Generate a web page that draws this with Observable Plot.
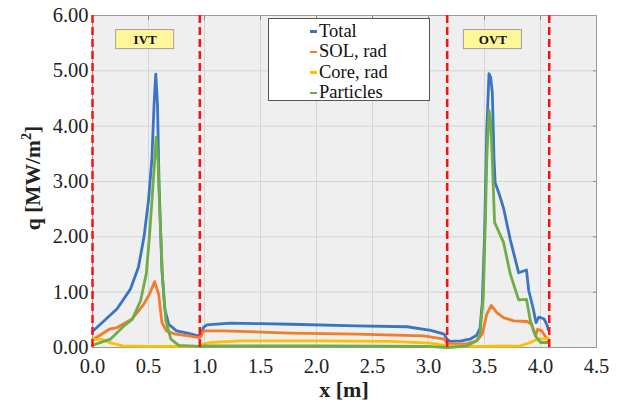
<!DOCTYPE html>
<html><head><meta charset="utf-8">
<script src="https://cdn.jsdelivr.net/npm/d3@7"></script>
<script src="https://cdn.jsdelivr.net/npm/@observablehq/plot@0.6"></script>
<style>
body{margin:0;background:#fff;font-family:'Liberation Serif',serif;}
#wrap{position:relative;width:624px;height:406px;}
#legend{position:absolute;left:268px;top:18px;width:162px;height:83px;border:1px solid #555;background:#fff;font-family:'Liberation Serif',serif;font-size:18.5px;box-sizing:border-box;padding:2px 0 0 41px;color:#111;}
.item{height:20.5px;display:flex;align-items:center;}
.sw{width:7px;height:2.5px;margin-right:2px;}
svg text{font-family:'Liberation Serif',serif;}
</style></head><body><div id="wrap"></div>
<script>
// ---- data ----
const seriesNames = ["Total", "SOL, rad", "Core, rad", "Particles"];
const seriesColors = ["#3A75C4", "#F07C2C", "#FFC000", "#6FAD46"];

const totalX = [0, 0.22, 0.34, 0.41, 0.46, 0.50, 0.53, 0.55, 0.565, 0.58, 0.595, 0.62, 0.645, 0.68, 0.75, 0.85, 0.945, 0.965, 0.99, 1.02, 1.23, 1.5, 1.77, 2.36, 2.81, 3.02, 3.14, 3.165, 3.19, 3.29, 3.37, 3.43, 3.46, 3.48, 3.50, 3.52, 3.54, 3.555, 3.57, 3.585, 3.595, 3.63, 3.67, 3.73, 3.805, 3.875, 3.895, 3.935, 3.96, 3.985, 4.03, 4.06, 4.07];
const totalQ = [0.29, 0.70, 1.06, 1.45, 2.0, 2.66, 3.4, 4.4, 4.94, 4.4, 2.9, 1.4, 0.7, 0.42, 0.30, 0.26, 0.21, 0.22, 0.36, 0.41, 0.44, 0.43, 0.42, 0.39, 0.375, 0.31, 0.24, 0.15, 0.11, 0.12, 0.15, 0.22, 0.35, 0.8, 2.0, 3.9, 4.95, 4.88, 4.6, 3.4, 2.98, 2.78, 2.52, 1.95, 1.35, 1.40, 1.03, 0.70, 0.45, 0.55, 0.52, 0.40, 0.32];

const solX = [0, 0.08, 0.15, 0.22, 0.35, 0.45, 0.51, 0.555, 0.59, 0.62, 0.66, 0.74, 0.86, 0.95, 0.965, 0.99, 1.17, 1.77, 2.36, 2.96, 3.14, 3.165, 3.18, 3.345, 3.43, 3.48, 3.52, 3.56, 3.61, 3.67, 3.76, 3.88, 3.92, 3.955, 3.975, 4.01, 4.05, 4.07];
const solQ = [0.14, 0.24, 0.33, 0.36, 0.51, 0.76, 0.97, 1.19, 0.97, 0.45, 0.30, 0.24, 0.21, 0.18, 0.19, 0.30, 0.30, 0.26, 0.24, 0.21, 0.15, 0.08, 0.06, 0.07, 0.12, 0.24, 0.60, 0.76, 0.63, 0.54, 0.48, 0.47, 0.42, 0.21, 0.33, 0.30, 0.18, 0.12];

const coreX = [0, 0.08, 0.17, 0.27, 0.5, 0.955, 0.99, 1.05, 1.32, 2.0, 2.66, 3.02, 3.165, 3.18, 3.5, 3.82, 3.91, 3.97, 4.07];
const coreQ = [0.14, 0.15, 0.08, 0.03, 0.02, 0.02, 0.06, 0.09, 0.12, 0.12, 0.11, 0.08, 0.03, 0.03, 0.02, 0.03, 0.09, 0.15, 0.16];

const partX = [0, 0.16, 0.28, 0.355, 0.43, 0.48, 0.51, 0.535, 0.555, 0.568, 0.585, 0.60, 0.625, 0.655, 0.70, 0.77, 0.96, 1.0, 2.0, 3.0, 3.165, 3.18, 3.345, 3.43, 3.46, 3.49, 3.51, 3.52, 3.54, 3.555, 3.57, 3.59, 3.67, 3.73, 3.805, 3.875, 3.91, 3.955, 4.0, 4.07];
const partQ = [0.04, 0.15, 0.39, 0.51, 0.85, 1.33, 2.05, 2.78, 3.38, 3.8, 3.38, 2.48, 1.27, 0.48, 0.15, 0.04, 0.02, 0.03, 0.03, 0.02, 0.0, 0.0, 0.03, 0.12, 0.24, 0.97, 2.48, 3.38, 4.29, 4.1, 3.38, 2.26, 1.90, 1.33, 0.86, 0.87, 0.48, 0.21, 0.09, 0.09];

const dividerX = [0, 0.958, 3.167, 4.078];
const tagNames = ["IVT", "OVT"];
const tagX = [0.47, 3.575];
const tagQ = [5.565, 5.565];

const xTicks = [0, 0.5, 1, 1.5, 2, 2.5, 3, 3.5, 4, 4.5];
const yTicks = [0, 1, 2, 3, 4, 5, 6];

// ---- build tables ----
const xs = [totalX, solX, coreX, partX];
const qs = [totalQ, solQ, coreQ, partQ];
const rows = [];
seriesNames.forEach((name, i) => xs[i].forEach((x, j) => rows.push({series: name, x, q: qs[i][j]})));
const tags = tagNames.map((t, i) => ({t, x: tagX[i], q: tagQ[i]}));

const serif = "Liberation Serif";
const halfW = 0.259, halfH = 0.172;
const blank = () => "";

const plot = Plot.plot({
  width: 624, height: 406,
  marginLeft: 92, marginRight: 28, marginTop: 15, marginBottom: 59,
  style: "font-family:'Liberation Serif',serif;font-size:20.5px;background:white;color:#222;",
  x: {domain: [0, 4.5], label: null},
  y: {domain: [0, 6], label: null},
  color: {domain: seriesNames, range: seriesColors},
  marks: [
    Plot.frame({fill: "#efefef"}),
    Plot.gridX(xTicks, {stroke: "#d4d4d4", strokeOpacity: 1}),
    Plot.gridY(yTicks, {stroke: "#d4d4d4", strokeOpacity: 1}),
    Plot.axisX(xTicks, {tickSize: 0, tickPadding: 11, tickFormat: d3.format(".1f")}),
    Plot.axisY(yTicks, {tickSize: 0, tickPadding: 4, tickFormat: d3.format(".2f")}),
    Plot.axisX(xTicks, {anchor: "top", tickSize: -4, tickFormat: blank, label: null, stroke: "#888"}),
    Plot.axisY(yTicks, {anchor: "right", tickSize: -4, tickFormat: blank, label: null, stroke: "#888"}),
    Plot.frame({stroke: "#9a9a9a"}),
    Plot.line(rows, {x: "x", y: "q", z: "series", stroke: "series", strokeWidth: 2.8, strokeLinejoin: "round"}),
    Plot.ruleX(dividerX, {stroke: "#ff1010", strokeWidth: 2.5, strokeDasharray: "8,4"}),
    Plot.rect(tags, {x1: d => d.x - halfW, x2: d => d.x + halfW, y1: d => d.q - halfH, y2: d => d.q + halfH, fill: "#fff59a", stroke: "#a0a0a0", strokeWidth: 1}),
    Plot.text(tags, {x: "x", y: "q", text: "t", fontWeight: "bold", fontSize: 13, fill: "#111"})
  ]
});

const svg = d3.select(plot);
svg.selectAll("text").attr("font-family", serif);
const yl = svg.append("text").attr("transform", "translate(40,178) rotate(-90)")
  .attr("text-anchor", "middle").attr("font-weight", "bold").attr("font-size", 21.5)
  .attr("font-family", serif).attr("fill", "#222");
yl.append("tspan").text("q [MW/m");
yl.append("tspan").attr("font-size", 14).attr("dy", -9).text("2");
yl.append("tspan").attr("dy", 9).text("]");
svg.append("text").attr("x", 344).attr("y", 397).attr("text-anchor", "middle")
  .attr("font-weight", "bold").attr("font-size", 22).attr("font-family", serif).attr("fill", "#222")
  .text("x [m]");

const wrap = document.getElementById("wrap");
wrap.appendChild(plot);
const leg = document.createElement("div");
leg.id = "legend";
seriesNames.forEach((n, i) => {
  const it = document.createElement("div");
  it.className = "item";
  const sw = document.createElement("span");
  sw.className = "sw";
  sw.style.background = seriesColors[i];
  const tx = document.createElement("span");
  tx.textContent = n;
  it.appendChild(sw); it.appendChild(tx);
  leg.appendChild(it);
});
wrap.appendChild(leg);
</script>
</body></html>
